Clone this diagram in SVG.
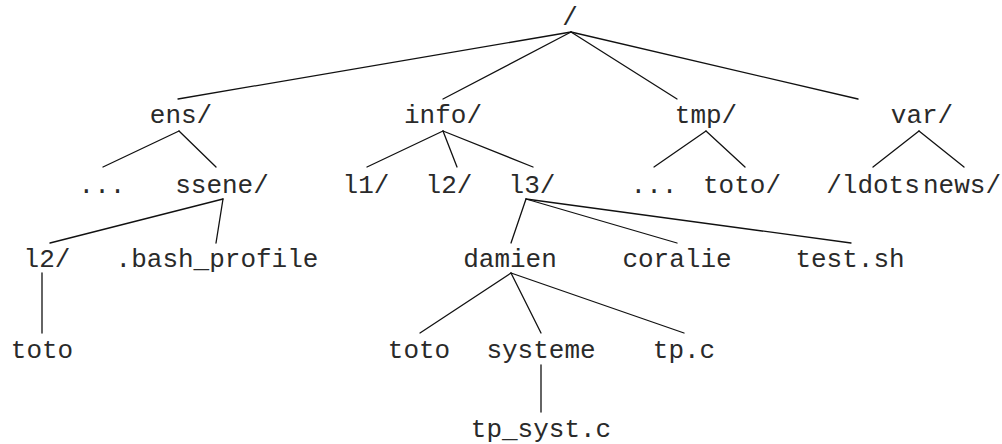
<svg xmlns="http://www.w3.org/2000/svg" width="1002" height="444" viewBox="0 0 1002 444">
<style>
text{font-family:"Liberation Mono","Courier New",monospace;font-size:26px;fill:#2a2a2a;text-anchor:middle}
.e line{stroke:#111;stroke-width:1.3;stroke-linecap:round}
</style>
<rect width="1002" height="444" fill="#fff"/>
<g class="e" id="connectors">
<line x1="571" y1="32" x2="178" y2="99"/>
<line x1="571" y1="32" x2="443" y2="99"/>
<line x1="571" y1="32" x2="677" y2="99"/>
<line x1="571" y1="32" x2="858" y2="99"/>
<line x1="179" y1="131" x2="103" y2="167"/>
<line x1="179" y1="131" x2="216" y2="167"/>
<line x1="443" y1="131" x2="367" y2="167"/>
<line x1="443" y1="131" x2="457" y2="167"/>
<line x1="443" y1="131" x2="533" y2="167"/>
<line x1="706" y1="131" x2="654" y2="167"/>
<line x1="706" y1="131" x2="745" y2="167"/>
<line x1="919" y1="131" x2="873" y2="167"/>
<line x1="919" y1="131" x2="964" y2="167"/>
<line x1="223" y1="199" x2="50" y2="243"/>
<line x1="223" y1="199" x2="216" y2="243"/>
<line x1="526" y1="199" x2="511" y2="243"/>
<line x1="526" y1="199" x2="677" y2="243"/>
<line x1="526" y1="199" x2="851" y2="243"/>
<line x1="42" y1="273" x2="42" y2="333"/>
<line x1="511" y1="273" x2="420" y2="333"/>
<line x1="511" y1="273" x2="541" y2="333"/>
<line x1="511" y1="273" x2="684" y2="333"/>
<line x1="541" y1="365" x2="541" y2="412"/>
</g>
<g id="root"><text x="570" y="25">/</text></g>
<g id="ens"><text x="181" y="123">ens/</text></g>
<g id="info"><text x="443" y="123">info/</text></g>
<g id="tmp"><text x="706" y="123">tmp/</text></g>
<g id="var"><text x="922" y="123">var/</text></g>
<g id="ens-dots"><text x="102" y="193">...</text></g>
<g id="ssene"><text x="222" y="193">ssene/</text></g>
<g id="l1"><text x="366" y="193">l1/</text></g>
<g id="info-l2"><text x="449" y="193">l2/</text></g>
<g id="l3"><text x="532" y="193">l3/</text></g>
<g id="tmp-dots"><text x="654" y="193">...</text></g>
<g id="tmp-toto"><text x="742" y="193">toto/</text></g>
<g id="ldots"><text x="873" y="193">/ldots</text></g>
<g id="news"><text x="962" y="193">news/</text></g>
<g id="ssene-l2"><text x="47" y="267">l2/</text></g>
<g id="bash-profile"><text x="217" y="267">.bash_profile</text></g>
<g id="damien"><text x="510" y="267">damien</text></g>
<g id="coralie"><text x="677" y="267">coralie</text></g>
<g id="test-sh"><text x="850" y="267">test.sh</text></g>
<g id="l2-toto"><text x="42" y="358">toto</text></g>
<g id="damien-toto"><text x="419" y="358">toto</text></g>
<g id="systeme"><text x="541" y="358">systeme</text></g>
<g id="tp-c"><text x="684" y="358">tp.c</text></g>
<g id="tp-syst-c"><text x="541" y="437">tp_syst.c</text></g>
</svg>
